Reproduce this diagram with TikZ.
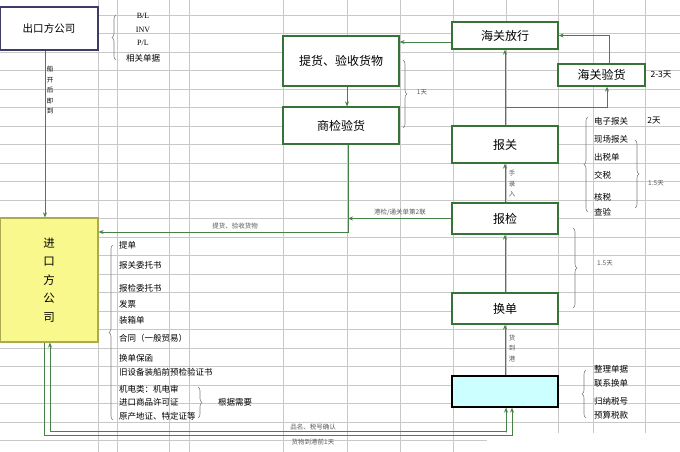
\documentclass[tikz,border=0pt]{standalone}
\usepackage{fontspec}
\setmainfont{Noto Sans CJK SC}
\newfontfamily\latinserif{Liberation Serif}
\usetikzlibrary{arrows.meta,decorations.pathreplacing}
\definecolor{boxgreen}{RGB}{55,115,55}
\definecolor{arrgreen}{RGB}{70,130,70}
\definecolor{gridgray}{RGB}{200,200,200}
\definecolor{yelfill}{RGB}{248,248,140}
\definecolor{yelborder}{RGB}{170,170,80}
\definecolor{cyanfill}{RGB}{204,255,255}
\definecolor{navyborder}{RGB}{60,60,100}
\definecolor{labgray}{RGB}{90,90,90}
\begin{document}
\begin{tikzpicture}[x=1pt,y=-1pt,
  gbox/.style={draw=boxgreen, line width=1.3pt, fill=white, inner sep=0pt, font=\fontsize{12}{14}\selectfont},
  arr/.style={draw=arrgreen, line width=0.8pt, -{Stealth[length=5pt,width=4pt]}},
  arrtwo/.style={draw=arrgreen, line width=0.8pt, {Stealth[length=5pt,width=4pt]}-{Stealth[length=5pt,width=4pt]}},
  gridline/.style={draw=gridgray, line width=0.5pt},
  bracestyle/.style={draw=gray, line width=0.6pt, decorate, decoration={brace, amplitude=4pt}},
  doc/.style={anchor=west, inner sep=0pt, font=\fontsize{8.5}{9}\selectfont},
  tiny/.style={inner sep=0pt, text=labgray, font=\fontsize{6.5}{7}\selectfont},
  vtiny/.style={inner sep=0pt, text=labgray, align=center, font=\fontsize{6.5}{10.5}\selectfont}]
\useasboundingbox (0,0) rectangle (680,452);
\fill[white] (0,0) rectangle (680,452);
% spreadsheet grid
\foreach \gx in {98,117,169,189,283,347,400,453,506,558,593,645}
  \draw[gridline] (\gx,0) -- (\gx,452);
\foreach \gy in {15,33.5,52,70.5,89,107.5,126,144.5,163,181.5,200,218.5,237,255.5,274,292.5,311,329.5,348,366.5,385,403.5,422,440.5}
  \draw[gridline] (0,\gy) -- (680,\gy);
\fill[white] (487,433) rectangle (680,452);

% boxes
\node[draw=navyborder, line width=1.3pt, fill=white, minimum width=98pt, minimum height=43pt, inner sep=0pt, font=\fontsize{10.5}{12}\selectfont] (chukou) at (49,28.5) {出口方公司};
\node[draw=yelborder, line width=1.2pt, fill=yelfill, minimum width=98pt, minimum height=124pt, inner sep=0pt, align=center, font=\fontsize{11.5}{18.5}\selectfont] (jinkou) at (49,280) {进\\口\\方\\公\\司};
\node[gbox, minimum width=116pt, minimum height=50pt] (tihuo) at (341,61) {提货、验收货物};
\node[gbox, minimum width=116pt, minimum height=37pt] (shangjian) at (341,125.5) {商检验货};
\node[gbox, minimum width=106pt, minimum height=27pt] (fangxing) at (505,35.5) {海关放行};
\node[gbox, minimum width=87pt, minimum height=22pt] (yanhuo) at (601.5,75) {海关验货};
\node[gbox, minimum width=106pt, minimum height=37pt] (baoguan) at (505,144.5) {报关};
\node[gbox, minimum width=106pt, minimum height=31pt] (baojian) at (505,218.5) {报检};
\node[gbox, minimum width=106pt, minimum height=31pt] (huandan) at (505,308.5) {换单};
\node[draw=black, line width=1.3pt, fill=cyanfill, minimum width=106pt, minimum height=31pt, inner sep=0pt] (prep) at (505,391.5) {};

% connectors
\draw[arr] ([xshift=-4pt]chukou.south) -- ([xshift=-4pt]jinkou.north);
\node[vtiny, text=black] (vlab1) at (50,90) {船\\开\\后\\即\\到};
\draw[arr] (fangxing.west |- 0,42) -- (tihuo.east |- 0,42);
\draw[arr] (tihuo.south -| 347,0) -- (shangjian.north -| 347,0);
\draw[arr] (shangjian.south -| 348,0) |- (jinkou.east |- 0,232);
\node[tiny] (lab1) at (235,226) {提货、验收货物};
\coordinate (sjline) at (348,218.5);
\draw[arr] (baojian.west) -- (sjline);
\node[tiny] (lab2) at (400,212) {港检/通关单第2联};
\draw[arr] (baojian.north) -- (baoguan.south);
\node[vtiny] (lab3) at (512,184) {手\\录\\入};
\draw[arr] (baoguan.north) -- (fangxing.south);
\coordinate (branch) at (505,107);
\draw[arr] (branch) -| (yanhuo.south -| 607,0);
\draw[arr] (yanhuo.north -| 609,0) |- (fangxing.east);
\draw[arr] (huandan.north) -- (baojian.south);
\draw[arr] (prep.north) -- (huandan.south);
\node[vtiny] (lab4) at (512,348) {货\\到\\港};
\draw[arrtwo] (jinkou.south -| 50,0) |- (506,431) -- (prep.south -| 506,0);
\draw[arr] (jinkou.south -| 44,0) |- (512,435) -- (prep.south -| 512,0);
\node[tiny] (lab5) at (313,427) {品名、税号确认};
\node[tiny] (lab6) at (313,442) {货物到港前1天};

% exporter documents
\draw[bracestyle] (116,60) -- (116,15);
\node[inner sep=0pt, font=\latinserif\fontsize{8}{9}\selectfont] (bl) at (143,16) {B/L};
\node[inner sep=0pt, font=\latinserif\fontsize{8}{9}\selectfont] (inv) at (143,29.5) {INV};
\node[inner sep=0pt, font=\latinserif\fontsize{8}{9}\selectfont] (pl) at (143,43) {P/L};
\node[inner sep=0pt, font=\fontsize{8.5}{9}\selectfont] (xgdj) at (143,58) {相关单据};

% importer documents
\draw[bracestyle] (113,420) -- (113,245);
\node[doc] (d1) at (119,245) {提单};
\node[doc] (d2) at (119,265) {报关委托书};
\node[doc] (d3) at (119,288) {报检委托书};
\node[doc] (d4) at (119,304) {发票};
\node[doc] (d5) at (119,320) {装箱单};
\node[doc] (d6) at (119,338) {合同（一般贸易）};
\node[doc] (d7) at (119,358) {换单保函};
\node[doc] (d8) at (119,372) {旧设备装船前预检验证书};
\node[doc] (d9) at (119,389) {机电类：机电审};
\node[doc] (d10) at (119,402.5) {进口商品许可证};
\node[doc] (d11) at (119,416) {原产地证、特定证等};
\draw[bracestyle] (198,387) -- (198,418);
\node[doc] (d12) at (218,402.5) {根据需要};

% 1 day brace
\draw[bracestyle] (403,60) -- (403,128);
\node[tiny] (oneday) at (422,92) {1天};
\node[inner sep=0pt, font=\fontsize{8.5}{9}\selectfont] (twothree) at (661,75) {2-3天};

% customs declaration list
\draw[bracestyle] (588,212) -- (588,117);
\node[doc] (c1) at (594,121) {电子报关};
\node[inner sep=0pt, font=\fontsize{8.5}{9}\selectfont] (twoday) at (654,121) {2天};
\node[doc] (c2) at (594,139.5) {现场报关};
\node[doc] (c3) at (594,157) {出税单};
\node[doc] (c4) at (594,175) {交税};
\node[doc] (c5) at (594,197) {核税};
\node[doc] (c6) at (594,212) {查验};
\draw[bracestyle] (635,140) -- (635,208);
\node[tiny] (onehalf1) at (656,183) {1.5天};

% 1.5 day brace for 报检/换单
\draw[bracestyle] (573,228) -- (573,308);
\node[tiny] (onehalf2) at (605,263) {1.5天};

% preparation list
\draw[bracestyle] (586,418) -- (586,370);
\node[doc] (p1) at (594,369) {整理单据};
\node[doc] (p2) at (594,383) {联系换单};
\node[doc] (p3) at (594,401) {归纳税号};
\node[doc] (p4) at (594,415) {预算税款};
\end{tikzpicture}
\end{document}
